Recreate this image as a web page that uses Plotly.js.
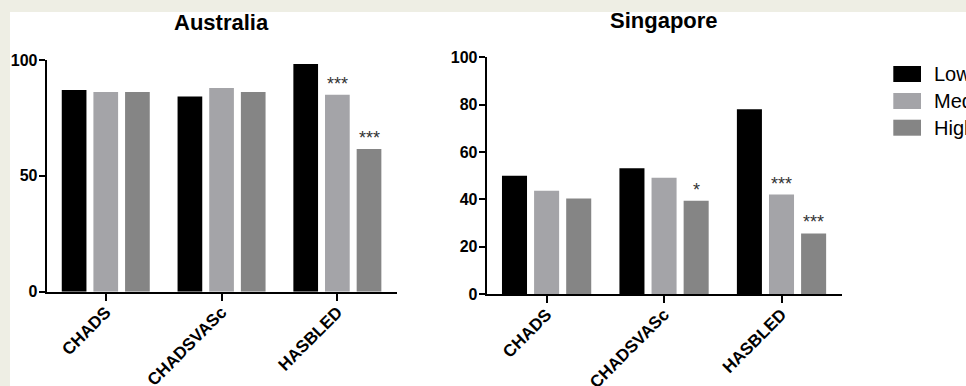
<!DOCTYPE html>
<html>
<head>
<meta charset="utf-8">
<script src="https://cdn.plot.ly/plotly-3.0.1.min.js"></script>
<style>
html,body{margin:0;padding:0;background:#eeeee4;width:966px;height:386px;overflow:hidden;}
#chart{position:absolute;left:0;top:0;width:966px;height:386px;}
</style>
</head>
<body>
<div id="chart"></div>
<script>
// ---- data ----
const categories = ["CHADS", "CHADSVASc", "HASBLED"];
const seriesNames = ["Low", "Medium", "High"];
const seriesColors = ["#000000", "#a4a4a8", "#858585"];
const australiaLow = [87.1, 84.2, 98.3];
const australiaMedium = [86.2, 87.9, 85.0];
const australiaHigh = [86.2, 86.2, 61.6];
const singaporeLow = [50.0, 53.1, 78.0];
const singaporeMedium = [43.6, 49.1, 42.0];
const singaporeHigh = [40.3, 39.4, 25.6];
// significance marks: [category index, series index, label]
const australiaStars = [[2, 1, "***"], [2, 2, "***"]];
const singaporeStars = [[1, 2, "*"], [2, 1, "***"], [2, 2, "***"]];
const australiaTicks = [0, 50, 100];
const singaporeTicks = [0, 20, 40, 60, 80, 100];

const FONT = "Liberation Sans, Arial, Helvetica, sans-serif";
const W = 966, H = 386;
const BARGAP = 0.18;
const slot = (1 - BARGAP) / 3;

const ausData = [australiaLow, australiaMedium, australiaHigh];
const sgData = [singaporeLow, singaporeMedium, singaporeHigh];

const traces = [];
ausData.forEach((vals, i) => traces.push({
  type: "bar", x: categories, y: vals, name: seriesNames[i],
  marker: {color: seriesColors[i]}, xaxis: "x", yaxis: "y",
  showlegend: false, hoverinfo: "x+y+name"
}));
sgData.forEach((vals, i) => traces.push({
  type: "bar", x: categories, y: vals, name: seriesNames[i],
  marker: {color: seriesColors[i]}, xaxis: "x2", yaxis: "y2",
  showlegend: false, hoverinfo: "x+y+name"
}));

function axisX(domain, anchor) {
  return {
    domain: domain, anchor: anchor, type: "category", range: [-0.51, 2.515],
    showline: true, linecolor: "#000", linewidth: 2, showgrid: false, zeroline: false,
    ticks: "outside", ticklen: 7, tickwidth: 2, tickcolor: "#000",
    tickangle: -45, tickfont: {family: FONT, size: 17, color: "#000", weight: "bold"},
    ticklabelstandoff: -5, fixedrange: true
  };
}
function axisY(domain, anchor, ticks) {
  return {
    domain: domain, anchor: anchor, range: [0, 100],
    showline: true, linecolor: "#000", linewidth: 2, showgrid: false, zeroline: false,
    ticks: "outside", ticklen: 6, tickwidth: 2, tickcolor: "#000",
    tickmode: "array", tickvals: ticks, ticktext: ticks.map(String),
    tickfont: {family: FONT, size: 16, color: "#000", weight: "bold"},
    ticklabelstandoff: -2, fixedrange: true
  };
}

const annotations = [];
function starAnn(list, data, xr, yr) {
  list.forEach(([ci, si, label]) => annotations.push({
    xref: xr, yref: yr, x: ci + (si - 1) * slot, y: data[si][ci],
    text: label, showarrow: false, yanchor: "bottom", xanchor: "center",
    yshift: -1, font: {family: FONT, size: 18, color: "#333"}
  }));
}
starAnn(australiaStars, ausData, "x", "y");
starAnn(singaporeStars, sgData, "x2", "y2");

annotations.push({xref: "x domain", yref: "paper", x: 0.5, y: 1 - 8.5 / H, yanchor: "top",
  text: "<b>Australia</b>", showarrow: false, font: {family: FONT, size: 22, color: "#000"}});
annotations.push({xref: "x2 domain", yref: "paper", x: 0.5, y: 1 - 6 / H, yanchor: "top",
  text: "<b>Singapore</b>", showarrow: false, font: {family: FONT, size: 22, color: "#000"}});

// white panel over the beige frame
const shapes = [{type: "rect", xref: "paper", yref: "paper", layer: "below",
  x0: 10 / W, x1: 1.01, y0: -0.01, y1: 1 - 12 / H, fillcolor: "#ffffff", line: {width: 0}}];

// legend (manual, to match the boxed swatches)
const legRows = [74, 101, 127.7];
seriesNames.forEach((nm, i) => {
  const yc = 1 - legRows[i] / H;
  shapes.push({type: "rect", xref: "paper", yref: "paper",
    x0: 893.3 / W, x1: 921 / W, y0: yc - 8 / H, y1: yc + 8 / H,
    fillcolor: seriesColors[i], line: {width: 0}});
  annotations.push({xref: "paper", yref: "paper", x: 931.5 / W, y: yc,
    xanchor: "left", yanchor: "middle", text: nm, showarrow: false,
    font: {family: FONT, size: 20, color: "#000"}});
});

const layout = {
  width: W, height: H,
  margin: {l: 0, r: 0, t: 0, b: 0, autoexpand: false},
  paper_bgcolor: "#eeeee4", plot_bgcolor: "rgba(0,0,0,0)",
  barmode: "group", bargap: BARGAP, bargroupgap: 0.22,
  showlegend: false,
  xaxis: axisX([46.7 / W, 397 / W], "y"),
  yaxis: axisY([1 - 291.7 / H, 1 - 60 / H], "x", australiaTicks),
  xaxis2: axisX([486.7 / W, 842 / W], "y2"),
  yaxis2: axisY([1 - 294 / H, 1 - 57.3 / H], "x2", singaporeTicks),
  annotations: annotations, shapes: shapes,
  font: {family: FONT}
};

Plotly.newPlot("chart", traces, layout, {displayModeBar: false, staticPlot: true});
</script>
</body>
</html>
